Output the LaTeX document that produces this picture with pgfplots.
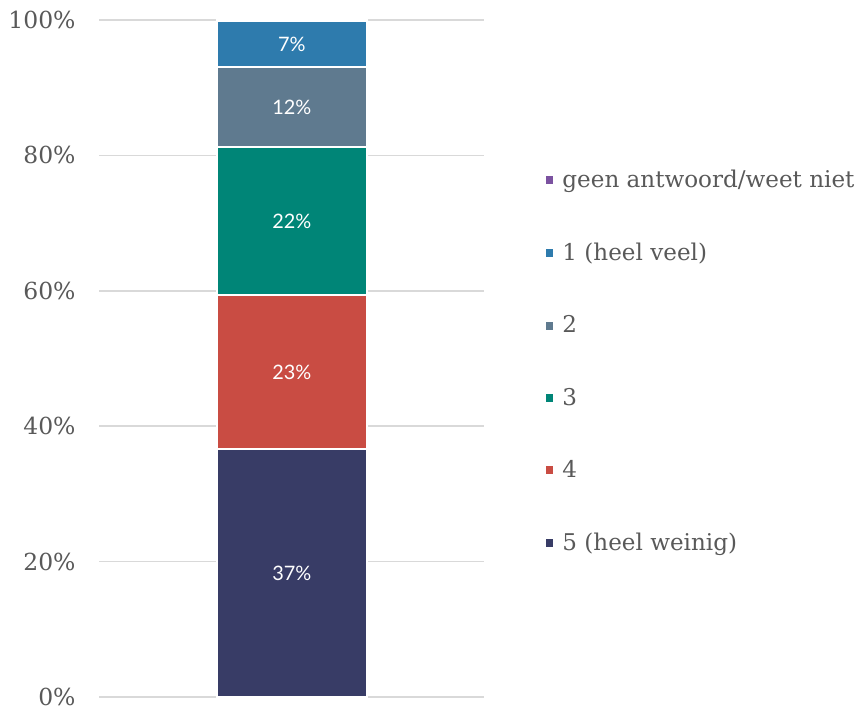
\documentclass[border=0pt]{standalone}
\usepackage{pgfplots}
\pgfplotsset{compat=1.18}
\usepackage{fontspec}
\setmainfont{DejaVu Serif}
\newfontfamily\labfont{Lato}
\definecolor{txt}{HTML}{595959}
\definecolor{gridc}{HTML}{D9D9D9}
\definecolor{c5}{HTML}{383C66}
\definecolor{c4}{HTML}{C94C43}
\definecolor{c3}{HTML}{008577}
\definecolor{c2}{HTML}{5F7A8F}
\definecolor{c1}{HTML}{2E7BAD}
\definecolor{c0}{HTML}{7B52A0}
\begin{document}
\begin{tikzpicture}
\path[use as bounding box] (0,-2pt) rectangle (434.4pt,355.5pt);
\begin{axis}[
  at={(50pt,5pt)}, anchor=south west,
  scale only axis, width=193.5pt, height=340.5pt,
  ybar stacked, bar width=75.5pt,
  xmin=-1, xmax=1, ymin=0, ymax=100,
  xtick=\empty,
  ytick={0,20,40,60,80,100},
  yticklabel={\pgfmathprintnumber{\tick}\%},
  /pgf/number format/assume math mode=true,
  yticklabel style={font=\fontsize{11.8}{13}\selectfont, text=txt, inner ysep=0pt},
  ymajorgrids, grid style={draw=gridc, line width=0.75pt},
  axis line style={draw=none}, major tick length=0pt,
  tick label style={xshift=-8.5pt},
  every axis plot/.append style={draw=white, line width=1.2pt},
  nodes near coords={\labfont\pgfplotspointmeta},
  point meta=explicit symbolic,
  every node near coord/.append style={text=white, font=\labfont\fontsize{10}{12}\selectfont, anchor=center},
  reverse legend,
  legend style={at={(rel axis cs:1.158,0.785)}, anchor=north west, draw=none, fill=none,
    font=\fontsize{11.6}{13}\selectfont, text=txt, row sep=22.3pt, inner sep=0pt},
  legend cell align=left,
  legend image code/.code={\fill[#1, draw=none] (0pt,-2pt) rectangle (4pt,2pt);},
]
\addplot[fill=c5] coordinates {(0,36.6) [37\%]};
\addplot[fill=c4] coordinates {(0,22.8) [23\%]};
\addplot[fill=c3] coordinates {(0,21.8) [22\%]};
\addplot[fill=c2] coordinates {(0,11.8) [12\%]};
\addplot[fill=c1] coordinates {(0,6.8) [7\%]};
\addplot[fill=c0, nodes near coords={}] coordinates {(0,0.2) []};
\legend{\hspace{2.5pt}5 (heel weinig),\hspace{2.5pt}4,\hspace{2.5pt}3,\hspace{2.5pt}2,\hspace{2.5pt}1 (heel veel),\hspace{2.5pt}geen antwoord/weet niet}
\end{axis}
\end{tikzpicture}
\end{document}
